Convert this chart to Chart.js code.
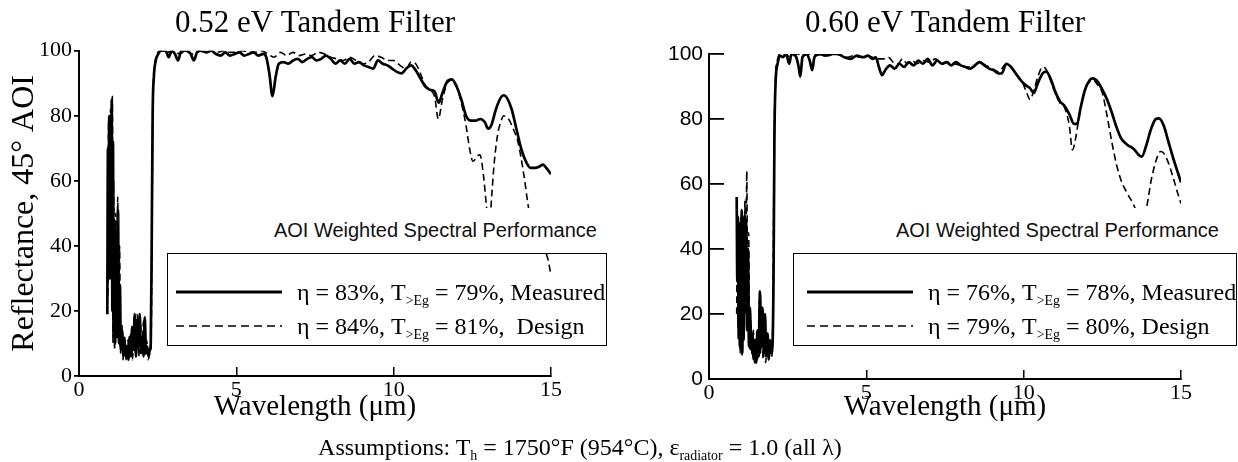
<!DOCTYPE html>
<html>
<head>
<meta charset="utf-8">
<script src="https://cdn.jsdelivr.net/npm/chart.js@4/dist/chart.umd.min.js"></script>
<style>
  body { margin: 0; background: #fff; }
  #wrap { position: relative; width: 1238px; height: 462px; overflow: hidden; }
  canvas { position: absolute; top: 0; }
  .band { position: absolute; background: #fff; font-family: "Liberation Sans", Arial, sans-serif;
          font-size: 20px; color: #111; text-align: right; line-height: 45px; box-sizing: border-box; }
  .lbox { position: absolute; border: 1.5px solid #000; background: transparent; box-sizing: border-box;
          font-family: "Liberation Serif", "Times New Roman", serif; font-size: 24px; color: #000; }
  .row { position: absolute; left: 0; height: 30px; line-height: 30px; white-space: pre; }
  .row svg { position: absolute; top: 0; }
  .row span { position: absolute; top: 0; }
  sub { font-size: 58%; vertical-align: -0.35em; line-height: 0; }
  #assume { position: absolute; left: 0; width: 1160px; top: 432px; text-align: center;
            font-family: "Liberation Serif", "Times New Roman", serif; font-size: 24px; line-height: 30px; white-space: pre; }
</style>
</head>
<body>
<div id="wrap">
  <canvas id="c52" width="620" height="462" style="left:0"></canvas>
  <canvas id="c60" width="618" height="462" style="left:620px"></canvas>

  <div class="band" style="left:250px;top:208px;width:357px;height:45px;padding-right:10px">AOI Weighted Spectral Performance</div>
  <div class="band" style="left:865px;top:208px;width:373px;height:45px;padding-right:19px">AOI Weighted Spectral Performance</div>

  <div class="lbox" style="left:167px;top:253px;width:440px;height:93px">
    <div class="row" style="top:23px"><svg width="120" height="30"><line x1="8" y1="15" x2="114" y2="15" stroke="#000" stroke-width="3.2"/></svg><span style="left:129px">η = 83%, T<sub>&gt;Eg</sub> = 79%, Measured</span></div>
    <div class="row" style="top:57px"><svg width="120" height="30"><line x1="8" y1="15" x2="114" y2="15" stroke="#000" stroke-width="1.6" stroke-dasharray="8,5"/></svg><span style="left:129px">η = 84%, T<sub>&gt;Eg</sub> = 81%,  Design</span></div>
  </div>
  <div class="lbox" style="left:793px;top:253px;width:444px;height:93px">
    <div class="row" style="top:23px"><svg width="125" height="30"><line x1="13" y1="15" x2="119" y2="15" stroke="#000" stroke-width="3.2"/></svg><span style="left:134px">η = 76%, T<sub>&gt;Eg</sub> = 78%, Measured</span></div>
    <div class="row" style="top:57px"><svg width="125" height="30"><line x1="13" y1="15" x2="119" y2="15" stroke="#000" stroke-width="1.6" stroke-dasharray="8,5"/></svg><span style="left:134px">η = 79%, T<sub>&gt;Eg</sub> = 80%, Design</span></div>
  </div>

  <div id="assume">Assumptions: T<sub>h</sub> = 1750°F (954°C), ε<sub>radiator</sub> = 1.0 (all λ)</div>
</div>

<script>
// wavelength (um), reflectance (%)
var meas52 = [
  [0.90,19],[0.92,70],[0.94,35],[0.96,80],[0.98,30],[1.00,78],[1.02,40],[1.04,85],[1.06,20],[1.08,72],
  [1.10,12],[1.12,48],[1.15,10],[1.18,45],[1.21,12],[1.24,51],[1.27,10],[1.30,28],[1.33,8],[1.37,14],
  [1.41,6],[1.45,11],[1.49,6],[1.53,9],[1.57,5],[1.61,12],[1.65,6],[1.69,15],[1.73,8],[1.77,19],
  [1.81,6],[1.85,17],[1.89,9],[1.93,19],[1.97,7],[2.01,12],[2.05,6],[2.09,18],[2.13,7],[2.17,9],
  [2.21,6],[2.25,8],[2.28,10],[2.31,40],[2.34,80],[2.38,92],[2.44,97],[2.52,99],[2.6,100],[2.75,100],
  [2.85,98],[2.95,100],[3.05,99],[3.15,97],[3.25,100],[3.4,100],[3.55,99],[3.65,97],[3.75,99.5],[3.9,100],
  [4.05,99.5],[4.2,100],[4.35,99],[4.5,98.5],[4.65,99.5],[4.8,98.5],[4.95,99],[5.1,99.5],[5.25,98.5],[5.4,99],
  [5.55,99.5],[5.7,98.5],[5.85,99],[5.95,98],[6.05,93],[6.15,86],[6.25,92],[6.35,96],[6.5,96.5],[6.65,96],
  [6.8,97],[6.95,97.5],[7.1,96.5],[7.25,97.5],[7.4,98],[7.55,97],[7.7,97.5],[7.85,98.5],[8.0,97.5],[8.15,96],
  [8.3,97],[8.45,96],[8.6,97.5],[8.75,96],[8.9,96.5],[9.05,95.5],[9.2,95],[9.35,94.5],[9.5,97],[9.65,96],
  [9.8,95.5],[9.95,94.5],[10.1,93.5],[10.25,93],[10.4,94.5],[10.55,95.5],[10.7,94],[10.85,91.5],[11.0,89],[11.15,88],
  [11.3,87.5],[11.43,84],[11.55,87],[11.7,90.5],[11.85,91.2],[12.0,89],[12.15,85],[12.3,80],[12.45,78.5],[12.6,78.5],
  [12.75,79],[12.9,78],[13.0,76],[13.1,77],[13.25,82],[13.4,85.5],[13.5,86.3],[13.6,85.5],[13.75,82],[13.9,76],
  [14.05,70],[14.2,66],[14.35,64],[14.5,64],[14.65,64.5],[14.75,65],[14.85,64],[15.0,62]
];
var design52 = [
  [0.92,25],[0.94,78],[0.97,35],[1.00,82],[1.03,30],[1.06,86],[1.08,10],[1.10,60],[1.13,8],[1.17,50],
  [1.20,15],[1.23,55],[1.26,12],[1.29,40],[1.32,7],[1.36,16],[1.40,5],[1.45,12],[1.50,5],[1.55,11],
  [1.60,6],[1.65,13],[1.70,5],[1.75,17],[1.80,7],[1.85,19],[1.90,6],[1.95,16],[2.00,7],[2.05,17],
  [2.10,6],[2.15,11],[2.20,5],[2.25,7],[2.29,9],[2.32,45],[2.35,85],[2.40,95],[2.48,99],[2.6,100],
  [2.8,99.5],[3.0,100],[3.2,99],[3.4,100],[3.6,99],[3.8,100],[4.0,99.5],[4.2,100],[4.4,99.5],[4.6,100],
  [4.8,99.5],[5.0,99.5],[5.2,100],[5.4,99.5],[5.6,99.5],[5.8,100],[6.0,99],[6.2,98],[6.4,99.5],[6.6,98.5],
  [6.8,99.5],[7.0,98.5],[7.2,99],[7.4,98.5],[7.6,99.5],[7.8,99],[8.0,98],[8.2,97.5],[8.4,97],[8.6,98],
  [8.8,97],[9.0,96],[9.2,96.5],[9.4,98.5],[9.6,98],[9.8,97],[10.0,97],[10.2,95.5],[10.4,94.5],[10.55,96.5],
  [10.7,96],[10.85,93],[11.0,89.5],[11.15,88],[11.3,86],[11.42,79],[11.55,85],[11.7,90],[11.85,91],[12.0,89],
  [12.15,84],[12.3,77],[12.42,69.5],[12.52,66],[12.65,67.5],[12.74,68],[12.85,62],[12.95,52],[13.0,47],[13.06,48],
  [13.12,56],[13.2,66],[13.3,74],[13.4,78],[13.5,80],[13.65,79],[13.8,76],[13.95,72],[14.05,67],[14.15,61],
  [14.25,54],[14.35,48],[14.5,42],[14.65,39.5],[14.8,38.5],[14.9,36],[15.0,31]
];
var meas60 = [
  [0.88,56],[0.90,30],[0.92,50],[0.94,15],[0.96,48],[0.98,10],[1.00,45],[1.02,20],[1.04,52],[1.06,8],
  [1.08,47],[1.10,12],[1.12,50],[1.15,25],[1.18,48],[1.21,15],[1.24,40],[1.27,10],[1.30,22],[1.34,9],
  [1.38,14],[1.42,6],[1.46,12],[1.50,5],[1.54,15],[1.58,7],[1.62,27],[1.66,10],[1.70,22],[1.74,8],
  [1.78,20],[1.82,7],[1.86,14],[1.90,6],[1.94,12],[1.98,8],[2.02,11],[2.05,30],[2.08,75],[2.12,92],
  [2.18,97],[2.25,99.5],[2.35,99],[2.45,100],[2.55,97],[2.62,100],[2.75,99.5],[2.85,96],[2.9,93],[2.97,99],
  [3.1,100],[3.2,98],[3.28,95],[3.35,99],[3.5,100],[3.7,99.5],[3.9,100],[4.1,100],[4.3,99],[4.5,98.5],
  [4.7,99.5],[4.9,99],[5.05,99.5],[5.2,98.5],[5.3,99],[5.4,96],[5.5,93.5],[5.6,95],[5.75,96.5],[5.9,95.5],
  [6.05,97],[6.2,96],[6.35,97.5],[6.5,96.5],[6.65,98],[6.8,97],[6.95,98.5],[7.1,96.5],[7.25,98],[7.4,97],
  [7.55,97.5],[7.7,96.5],[7.85,97.5],[8.0,96.5],[8.15,96],[8.3,95.5],[8.45,96.5],[8.6,97.5],[8.75,96.5],[8.9,95.5],
  [9.05,95],[9.2,94],[9.3,94],[9.45,97],[9.6,96],[9.75,94],[9.9,92],[10.05,90.5],[10.2,89.5],[10.32,88],
  [10.45,91],[10.6,94],[10.72,94.6],[10.85,92.5],[11.0,88.5],[11.15,85.5],[11.3,84],[11.45,81.5],[11.6,78.5],[11.7,78.5],
  [11.8,83],[11.95,89],[12.1,92],[12.2,92.5],[12.35,91.5],[12.5,89],[12.65,86],[12.8,82],[12.95,77.5],[13.1,74],
  [13.3,72],[13.5,70.8],[13.65,69],[13.75,68.4],[13.9,72],[14.05,77],[14.2,80],[14.3,80.2],[14.45,78],[14.6,73],
  [14.75,68],[14.9,63.5],[15.0,60.5]
];
var design60 = [
  [0.88,20],[0.90,48],[0.93,12],[0.96,45],[0.99,8],[1.02,50],[1.05,7],[1.08,45],[1.11,15],[1.14,55],
  [1.17,20],[1.20,64],[1.23,15],[1.26,45],[1.29,9],[1.33,18],[1.37,7],[1.41,15],[1.45,5],[1.50,12],
  [1.55,6],[1.60,24],[1.64,8],[1.68,20],[1.72,6],[1.76,18],[1.80,5],[1.85,12],[1.90,6],[1.95,10],
  [2.00,7],[2.03,20],[2.07,70],[2.11,92],[2.17,98],[2.25,100],[2.4,100],[2.6,99],[2.8,100],[3.0,99.5],
  [3.2,100],[3.4,99.5],[3.6,100],[3.8,99.5],[4.0,100],[4.2,99.5],[4.4,99],[4.6,99.5],[4.8,99],[5.0,99.5],
  [5.2,99],[5.4,98.5],[5.55,98.5],[5.7,99],[5.85,97.5],[6.0,97],[6.15,98.5],[6.3,97],[6.45,98],[6.6,97],
  [6.8,98],[7.0,97.5],[7.2,98.5],[7.4,97],[7.6,97.5],[7.8,97],[8.0,96.5],[8.2,96],[8.4,96],[8.6,97.5],
  [8.8,96.5],[9.0,95.5],[9.2,94.5],[9.45,97],[9.6,96],[9.8,93.5],[9.95,91.5],[10.1,88],[10.2,86],[10.3,88],
  [10.45,93],[10.6,96],[10.7,95.5],[10.85,92],[11.0,88],[11.15,85],[11.3,83.5],[11.45,78],[11.55,70.5],[11.65,74],
  [11.8,83],[11.95,89],[12.1,91.5],[12.2,92],[12.35,90.5],[12.5,88],[12.65,81],[12.8,73],[12.95,66],[13.1,61],
  [13.3,57],[13.5,53.5],[13.6,51],[13.7,49],[13.82,50],[13.92,53.5],[14.05,61],[14.2,67],[14.35,70],[14.45,69.5],
  [14.6,66.5],[14.75,62],[14.9,57],[15.0,54]
];
var xTicks = [0, 5, 10, 15];
var yTicks = [0, 20, 40, 60, 80, 100];

var SERIF = '"Liberation Serif", "Times New Roman", serif';
var SANS = '"Liberation Sans", Arial, sans-serif';

function pts(arr) {
  return arr.map(function (p) { return { x: p[0], y: p[1] }; });
}

function makeChart(id, o) {
  var ctx = document.getElementById(id).getContext("2d");
  return new Chart(ctx, {
    type: "line",
    data: {
      datasets: [
        { label: "Design", data: pts(o.design), borderColor: "#000", borderWidth: 1.6,
          borderDash: [7, 4], pointRadius: 0, cubicInterpolationMode: "monotone", fill: false },
        { label: "Measured", data: pts(o.meas), borderColor: "#000", borderWidth: 2.7,
          pointRadius: 0, cubicInterpolationMode: "monotone", fill: false }
      ]
    },
    options: {
      responsive: false,
      animation: false,
      layout: { padding: { left: 0, right: o.padRight, top: 0, bottom: 0 } },
      plugins: {
        legend: { display: false },
        tooltip: { enabled: false },
        title: {
          display: true, text: o.title, color: "#000", fullSize: false,
          font: { family: SERIF, size: 31, weight: "normal", lineHeight: 1.2 },
          padding: { top: 5.4, bottom: o.titleBottom }
        }
      },
      scales: {
        x: {
          type: "linear", min: 0, max: 15,
          afterBuildTicks: function (s) { s.ticks = xTicks.map(function (v) { return { value: v }; }); },
          ticks: { color: "#000", font: { family: SERIF, size: 22 }, padding: 10 },
          grid: { drawOnChartArea: false, drawTicks: true, tickLength: -9, color: "#000", lineWidth: 1.5 },
          border: { display: true, color: "#000", width: 2 },
          title: { display: true, text: "Wavelength (μm)", color: "#000",
                   font: { family: SERIF, size: 29, lineHeight: 1.2 }, padding: { top: 0, bottom: 37.6 } },
          afterFit: function (s) { s.height = o.xHeight; }
        },
        y: {
          min: 0, max: 100,
          afterBuildTicks: function (s) { s.ticks = yTicks.map(function (v) { return { value: v }; }); },
          ticks: { color: "#000", font: o.yFont, padding: o.yPad },
          grid: { drawOnChartArea: false, drawTicks: true, tickLength: o.yTick, color: "#000", lineWidth: 1.8 },
          border: { display: true, color: "#000", width: 2 },
          title: { display: !!o.yTitle, text: o.yTitle || "", color: "#000",
                   font: { family: SERIF, size: 32, lineHeight: 1.2 }, padding: { top: 5, bottom: 0 } },
          afterFit: function (s) { s.width = o.yWidth; }
        }
      }
    }
  });
}

makeChart("c52", {
  title: "0.52 eV Tandem Filter", meas: meas52, design: design52,
  padRight: 69, titleBottom: 8.1, xHeight: 86, yWidth: 79,
  yFont: { family: SERIF, size: 22 }, yPad: 2, yTick: 5,
  yTitle: "Reflectance, 45° AOI"
});

makeChart("c60", {
  title: "0.60 eV Tandem Filter", meas: meas60, design: design60,
  padRight: 57, titleBottom: 11.4, xHeight: 83, yWidth: 89,
  yFont: { family: SANS, size: 21 }, yPad: 21, yTick: -15,
  yTitle: ""
});
</script>
</body>
</html>
